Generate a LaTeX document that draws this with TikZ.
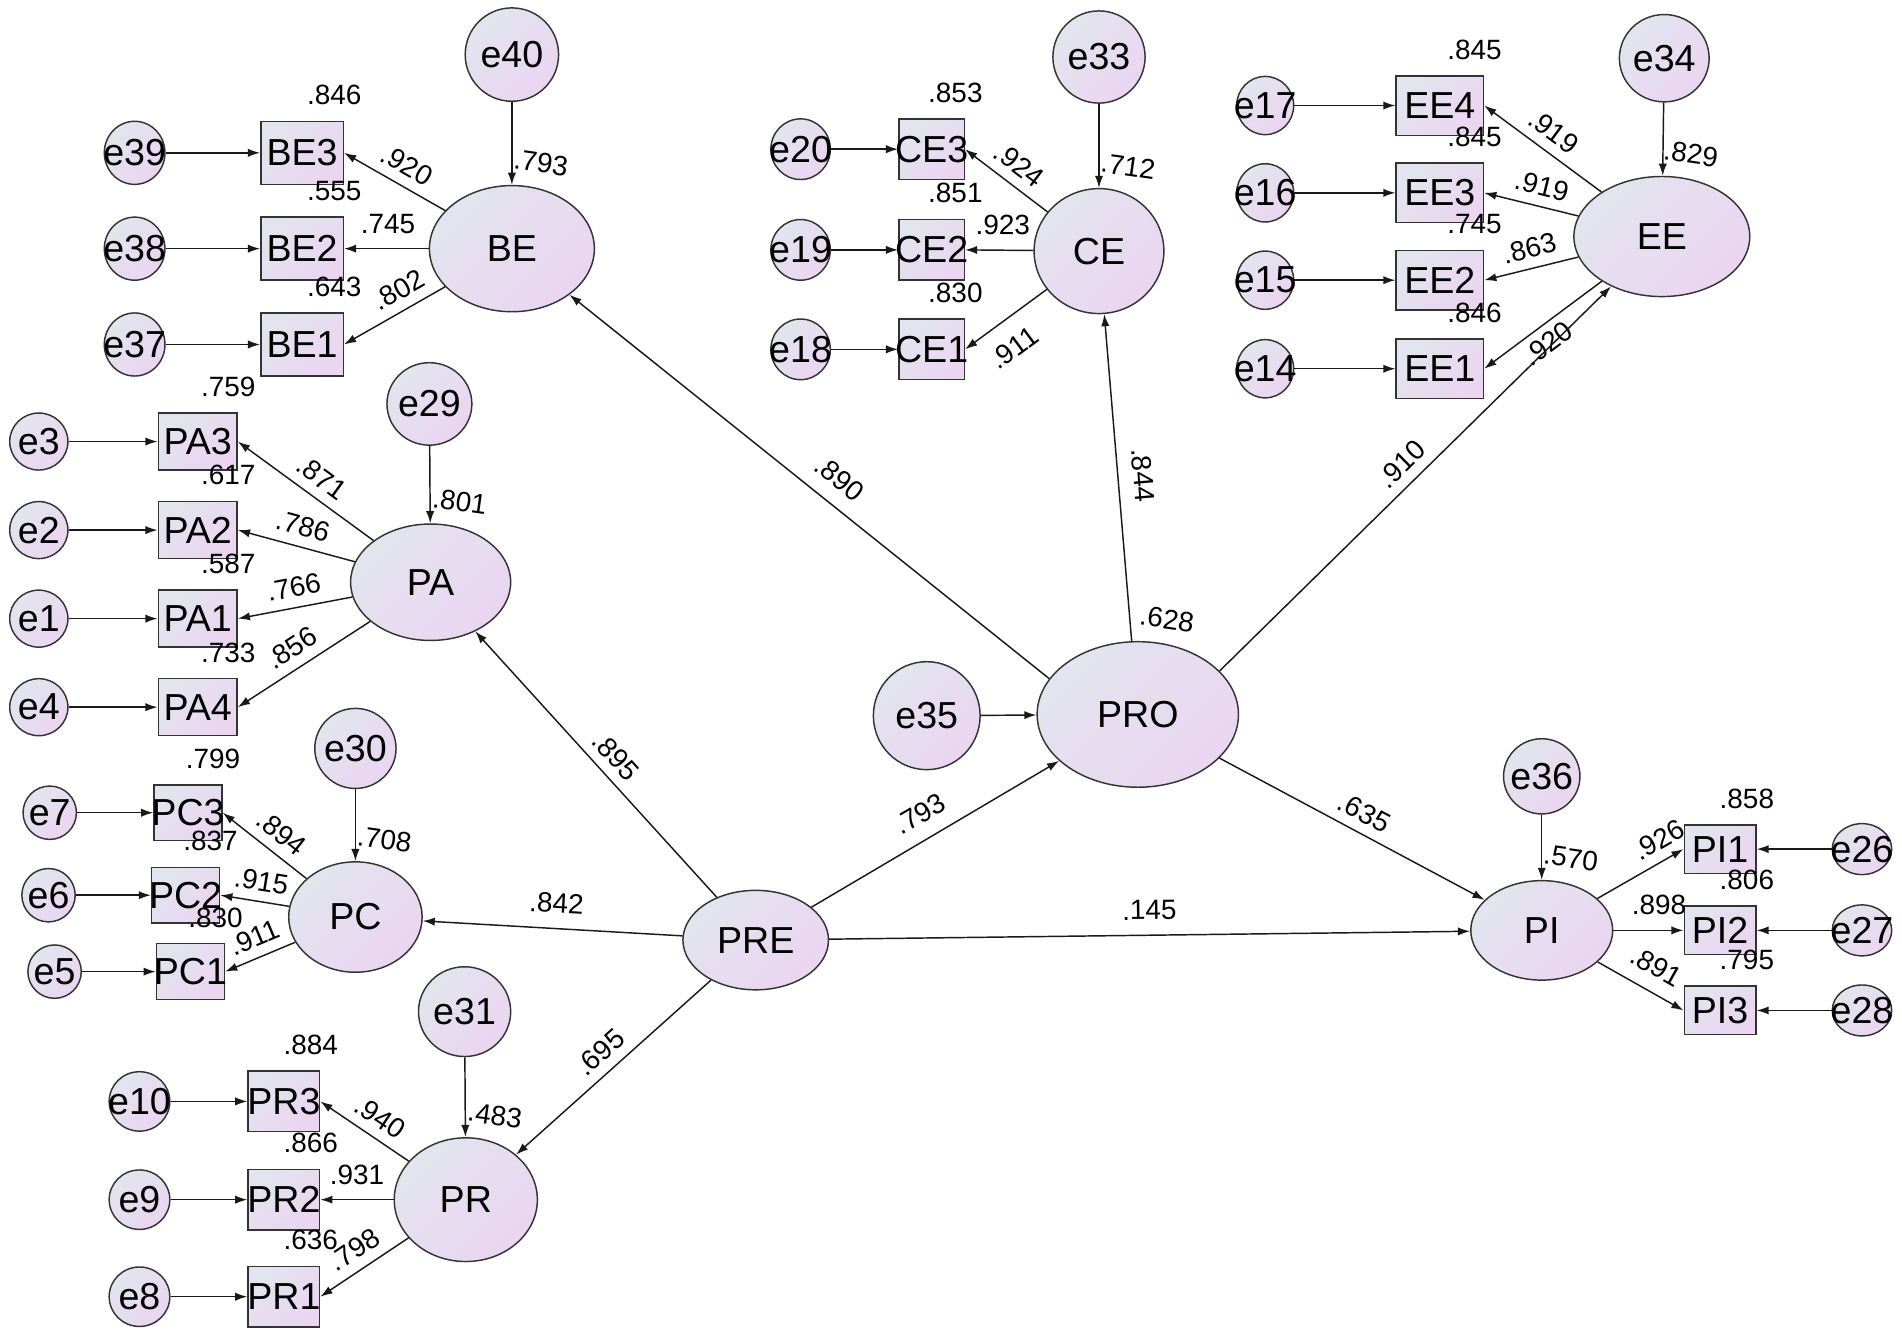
\documentclass[tikz,border=0pt]{standalone}
\usepackage{fontspec}
\setmainfont{Liberation Sans}
\usetikzlibrary{arrows.meta,shapes.geometric}

\definecolor{semA}{HTML}{E2E5EE}
\definecolor{semB}{HTML}{EBD5F1}
\newcommand{\semfont}{\fontsize{15.5}{18}\selectfont}
\newcommand{\valfont}{\fontsize{11.5}{13}\selectfont}

\tikzset{
  semshade/.style={top color=semA, bottom color=semB, shading angle=45},
  lat/.style={ellipse, draw=black!80, line width=0.6pt, semshade, inner sep=0pt, font=\semfont},
  ind/.style={rectangle, draw=black!80, line width=0.6pt, semshade, inner xsep=-3pt, inner ysep=0pt, font=\semfont},
  err/.style={ellipse, draw=black!80, line width=0.6pt, semshade, inner xsep=-6pt, inner ysep=-3pt, font=\semfont},
  arr/.style={-{Latex[length=5pt,width=3.4pt]}, line width=0.6pt, draw=black!90},
  val/.style={font=\valfont, inner sep=1pt},
  ab/.style={above=3pt},
  abw/.style={above=5pt},
  bl/.style={below=6pt},
  bls/.style={below=2pt}
}

\begin{document}
\begin{tikzpicture}[x=0.5pt, y=-0.5pt]
    \useasboundingbox (0,0) rectangle (1568,1101);
    \node[lat, minimum width=68pt, minimum height=52pt] (BE) at (422,205) {BE};
    \node[lat, minimum width=53.5pt, minimum height=51.5pt] (CE) at (906,207) {CE};
    \node[lat, minimum width=72.5pt, minimum height=49.5pt] (EE) at (1370,195) {EE};
    \node[lat, minimum width=66pt, minimum height=48pt] (PA) at (355,480) {PA};
    \node[lat, minimum width=55pt, minimum height=45.5pt] (PC) at (293,756) {PC};
    \node[lat, minimum width=59pt, minimum height=51pt] (PR) at (384,989) {PR};
    \node[lat, minimum width=83pt, minimum height=60pt] (PRO) at (938,589) {PRO};
    \node[lat, minimum width=60pt, minimum height=41pt] (PRE) at (623,775) {PRE};
    \node[lat, minimum width=58.5pt, minimum height=41pt] (PI) at (1271,767) {PI};
    \foreach \n/\x/\y/\w/\h in {e40/422/45/38.5pt/38.5pt, e33/906/47/38pt/38pt, e34/1372/48/37pt/36pt,
        e29/354/333/35pt/34pt, e30/293/617/33.5pt/33pt, e31/383/834/38pt/37pt,
        e35/764/590/44pt/44.5pt, e36/1271/640/31.5pt/31pt} {
      \node[err, minimum width=\w, minimum height=\h] (\n) at (\x,\y) {\n};
    }
    \foreach \n/\lt in {e40/BE, e33/CE, e34/EE, e29/PA, e30/PC, e31/PR, e36/PI, e35/PRO} {
      \draw[arr] (\n) -- (\lt);
    }
    \foreach \lt/\sq in {BE/.793, CE/.712, EE/.829, PA/.801, PC/.708, PR/.483, PI/.570, PRO/.628} {
      \node[val, rotate=-8] (sq\lt) at ([shift={(24,-18)}]\lt.north) {\sq};
    }
    \foreach \e/\i/\y/\r/\w/\p/\s in {e39/3/126/.846/.920/0.48/ab, e38/2/205/.555/.745/0.48/abw, e37/1/284/.643/.802/0.36/ab} {
      \node[err, minimum width=25pt, minimum height=26pt] (\e) at (111,\y) {\e};
      \node[ind, minimum width=34pt, minimum height=26pt] (BE\i) at (249,\y) {BE\i};
      \node[val] (sqBE\i) at ([shift={(-8,-21)}]BE\i.north east) {\r};
      \draw[arr] (\e) -- (BE\i);
      \draw[arr] (BE) -- (BE\i.east) node[val, sloped, pos=\p, \s] {\w};
    }
    \foreach \e/\i/\y/\r/\w/\p/\s in {e20/3/123/.853/.924/0.49/ab, e19/2/206/.851/.923/0.45/abw, e18/1/288/.830/.911/0.6/bl} {
      \node[err, minimum width=24.5pt, minimum height=25pt] (\e) at (660,\y) {\e};
      \node[ind, minimum width=27pt, minimum height=25pt] (CE\i) at (768,\y) {CE\i};
      \node[val] (sqCE\i) at ([shift={(-8,-21)}]CE\i.north east) {\r};
      \draw[arr] (\e) -- (CE\i);
      \draw[arr] (CE) -- (CE\i.east) node[val, sloped, pos=\p, \s] {\w};
    }
    \foreach \e/\i/\y/\r/\w/\p/\s in {e17/4/87/.845/.919/0.51/ab, e16/3/159/.845/.919/0.44/ab, e15/2/231/.745/.863/0.47/ab, e14/1/304/.846/.920/0.55/bls} {
      \node[err, minimum width=23.5pt, minimum height=24pt] (\e) at (1043,\y) {\e};
      \node[ind, minimum width=36pt, minimum height=24.5pt] (EE\i) at (1187,\y) {EE\i};
      \node[val] (sqEE\i) at ([shift={(-8,-21)}]EE\i.north east) {\r};
      \draw[arr] (\e) -- (EE\i);
      \draw[arr] (EE) -- (EE\i.east) node[val, sloped, pos=\p, \s] {\w};
    }
    \foreach \e/\i/\y/\r/\w/\p/\s in {e3/3/364/.759/.871/0.47/ab, e2/2/437/.617/.786/0.49/ab, e1/1/510/.587/.766/0.48/ab, e4/4/583/.733/.856/0.51/ab} {
      \node[err, minimum width=24pt, minimum height=23.5pt] (\e) at (32,\y) {\e};
      \node[ind, minimum width=32.5pt, minimum height=23.5pt] (PA\i) at (163,\y) {PA\i};
      \node[val] (sqPA\i) at ([shift={(-8,-21)}]PA\i.north east) {\r};
      \draw[arr] (\e) -- (PA\i);
      \draw[arr] (PA) -- (PA\i.east) node[val, sloped, pos=\p, \s] {\w};
    }
    \foreach \e/\x/\i/\bx/\y/\r/\w/\p in {e7/41/3/155/670/.799/.894/0.45, e6/40/2/153/738/.837/.915/0.45, e5/45/1/157/801/.830/.911/0.47} {
      \node[err, minimum width=22pt, minimum height=22pt] (\e) at (\x,\y) {\e};
      \node[ind, minimum width=28pt, minimum height=23pt] (PC\i) at (\bx,\y) {PC\i};
      \node[val] (sqPC\i) at ([shift={(-8,-21)}]PC\i.north east) {\r};
      \draw[arr] (\e) -- (PC\i);
      \draw[arr] (PC) -- (PC\i.east) node[val, sloped, pos=\p, ab] {\w};
    }
    \foreach \e/\i/\y/\r/\w/\p/\s in {e10/3/908/.884/.940/0.45/ab, e9/2/989/.866/.931/0.5/abw, e8/1/1069/.636/.798/0.49/ab} {
      \node[err, minimum width=25pt, minimum height=24.5pt] (\e) at (115,\y) {\e};
      \node[ind, minimum width=29.5pt, minimum height=25pt] (PR\i) at (234,\y) {PR\i};
      \node[val] (sqPR\i) at ([shift={(-8,-21)}]PR\i.north east) {\r};
      \draw[arr] (\e) -- (PR\i);
      \draw[arr] (PR) -- (PR\i.east) node[val, sloped, pos=\p, \s] {\w};
    }
    \foreach \e/\i/\y/\r/\w/\p/\s in {e26/1/700/.858/.926/0.83/ab, e27/2/767/.806/.898/0.65/abw, e28/3/833/.795/.891/0.54/abw} {
      \node[err, minimum width=24.5pt, minimum height=21pt] (\e) at (1535,\y) {\e};
      \node[ind, minimum width=29.5pt, minimum height=20pt] (PI\i) at (1418,\y) {PI\i};
      \node[val] (sqPI\i) at ([shift={(-8,-21)}]PI\i.north east) {\r};
      \draw[arr] (\e) -- (PI\i);
      \draw[arr] (PI) -- (PI\i.west) node[val, sloped, pos=\p, \s] {\w};
    }
    \draw[arr] (PRE) -- (PA) node[val, sloped, pos=0.48, ab] {.895};
    \draw[arr] (PRE) -- (PC) node[val, sloped, pos=0.49, abw] {.842};
    \draw[arr] (PRE) -- (PR) node[val, sloped, pos=0.5, ab] {.695};
    \draw[arr] (PRE) -- (PRO) node[val, sloped, pos=0.49, abw] {.793};
    \draw[arr] (PRE) -- (PI) node[val, sloped, pos=0.5, abw] {.145};
    \draw[arr] (PRO.158) -- (BE) node[val, sloped, pos=0.47, abw] {.890};
    \draw[arr] (PRO) -- (CE) node[val, sloped, pos=0.5, abw] {.844};
    \draw[arr] (PRO.28) -- (EE) node[val, sloped, pos=0.5, ab] {.910};
    \draw[arr] (PRO) -- (PI) node[val, sloped, pos=0.51, ab] {.635};
\end{tikzpicture}
\end{document}
